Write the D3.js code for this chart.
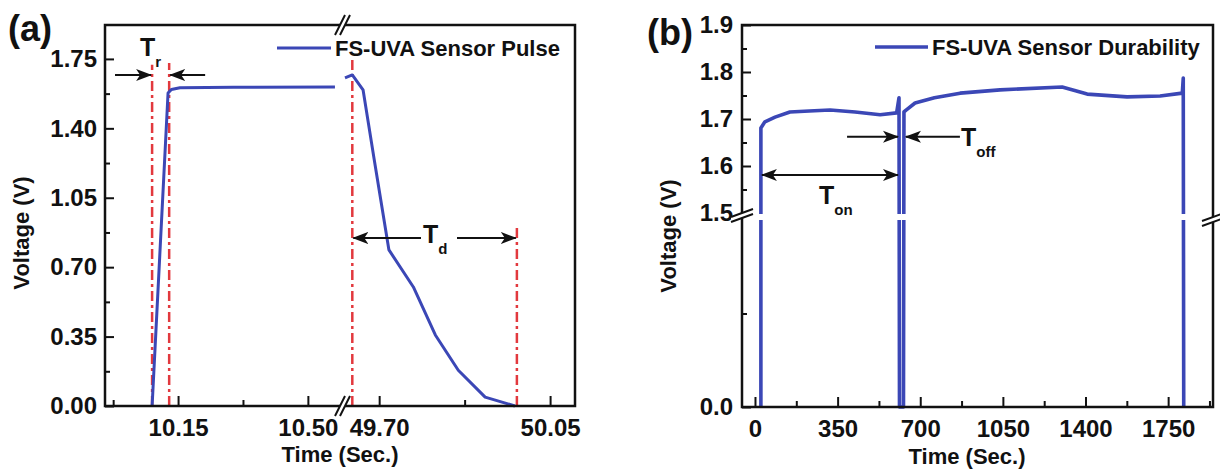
<!DOCTYPE html>
<html>
<head>
<meta charset="utf-8">
<script src="https://cdn.jsdelivr.net/npm/d3@7"></script>
<style>
  body { margin: 0; background: #fff; }
  text { font-family: "Liberation Sans", Arial, sans-serif; font-weight: bold; fill: #111; }
</style>
</head>
<body>
<svg id="chart" width="1220" height="470"></svg>
<script>
// ---- panel (a): sensor pulse, broken time axis ----
const riseTime = [10.080, 10.123, 10.132, 10.155, 10.300, 10.573];
const riseVolt = [0, 1.578, 1.596, 1.605, 1.607, 1.609];
const decayTime = [49.630, 49.645, 49.667, 49.690, 49.720, 49.770, 49.815, 49.862, 49.917, 49.978];
const decayVolt = [1.654, 1.669, 1.594, 1.240, 0.787, 0.600, 0.358, 0.180, 0.045, 0];
const markerTime = [10.080, 10.126, 49.645, 49.982];
const markerTop = [1.72, 1.73, 1.76, 0.90];
const aYTicks = [0, 0.35, 0.70, 1.05, 1.40, 1.75];
const aYMinor = [0.175, 0.525, 0.875, 1.225, 1.575];
const aXTicksL = [10.15, 10.50];
const aXMinorL = [9.975, 10.325];
const aXTicksR = [49.70, 50.05];
const aXMinorR = [49.875];

// ---- panel (b): sensor durability, broken voltage axis ----
const durTime = [25, 25, 42, 85, 148, 230, 318, 424, 530, 600, 610, 612, 629, 631, 640, 678, 760, 869, 1038, 1301, 1407, 1576, 1716, 1810, 1814, 1816];
const durVolt = [0, 1.681, 1.694, 1.704, 1.715, 1.717, 1.719, 1.715, 1.709, 1.713, 1.745, 0, 0, 1.715, 1.719, 1.734, 1.745, 1.755, 1.762, 1.768, 1.753, 1.747, 1.749, 1.755, 1.787, 0];
const bYTicksUp = [1.5, 1.6, 1.7, 1.8, 1.9];
const bYMinorUp = [1.55, 1.65, 1.75, 1.85];
const bYTicksLo = [0];
const bYMinorLo = [0.5];
const bXTicks = [0, 350, 700, 1050, 1400, 1750];
const bXMinor = [175, 525, 875, 1225, 1575, 1925];

const BLUE = '#3b47b6';
const RED = '#e2393e';
const INK = '#111';
const TICK_FONT = 24;
const TITLE_FONT = 22;

const svg = d3.select('#chart');

const defs = svg.append('defs');
defs.append('marker')
    .attr('id', 'head')
    .attr('viewBox', '0 -7 16 14')
    .attr('refX', 15).attr('refY', 0)
    .attr('markerWidth', 16).attr('markerHeight', 14)
    .attr('markerUnits', 'userSpaceOnUse')
    .attr('orient', 'auto-start-reverse')
  .append('path')
    .attr('d', 'M0,-6L16,0L0,6L4,0Z')
    .attr('fill', INK);

const styleAxis = (g, size) => {
  g.select('.domain').remove();
  g.attr('font-size', size).attr('font-family', null);
  g.selectAll('line').attr('stroke', INK).attr('stroke-width', 2);
};

const arrow = (g, x1, y1, x2, y2, both) => {
  const l = g.append('line')
    .attr('x1', x1).attr('y1', y1).attr('x2', x2).attr('y2', y2)
    .attr('stroke', INK).attr('stroke-width', 2)
    .attr('marker-end', 'url(#head)');
  if (both) l.attr('marker-start', 'url(#head)');
};

const subLabel = (g, x, y, main, sub) => {
  const t = g.append('text').attr('x', x).attr('y', y).attr('font-size', 25);
  t.append('tspan').text(main);
  t.append('tspan').attr('font-size', 15).attr('dy', 11).text(sub);
};

// horizontal-axis break mark (slashes across a horizontal line)
const breakH = (g, x, y) => {
  g.append('path')
    .attr('d', `M${x - 6},${y + 10}L${x + 4},${y - 10}L${x + 9},${y - 10}L${x - 1},${y + 10}Z`)
    .attr('fill', '#fff');
  [0, 5].forEach(dx => g.append('line')
    .attr('x1', x - 6 + dx).attr('y1', y + 10)
    .attr('x2', x + 4 + dx).attr('y2', y - 10)
    .attr('stroke', INK).attr('stroke-width', 2));
};
// vertical-axis break mark (slashes across a vertical line)
const breakV = (g, x, y) => {
  g.append('path')
    .attr('d', `M${x - 11},${y + 3}L${x + 11},${y - 5}L${x + 11},${y}L${x - 11},${y + 8}Z`)
    .attr('fill', '#fff');
  [0, 5].forEach(dy => g.append('line')
    .attr('x1', x - 11).attr('y1', y + 3 + dy)
    .attr('x2', x + 11).attr('y2', y - 5 + dy)
    .attr('stroke', INK).attr('stroke-width', 2));
};

// ================= panel (a) =================
const A = { left: 105, right: 575, top: 25, bottom: 406, brk: 343 };
const xL = d3.scaleLinear().domain([9.953, 10.592]).range([A.left, 342]);
const xR = d3.scaleLinear().domain([49.628, 50.101]).range([344, A.right]);
const ya = d3.scaleLinear().domain([0, 1.921]).range([A.bottom, A.top]);
const xa = t => (t < 30 ? xL(t) : xR(t));

const ga = svg.append('g').attr('class', 'panel-a');

// red dash-dot guide lines
ga.selectAll('.guide').data(markerTime).enter().append('line')
    .attr('class', 'guide')
    .attr('x1', d => xa(d)).attr('x2', d => xa(d))
    .attr('y1', ya(0)).attr('y2', (d, i) => ya(markerTop[i]))
    .attr('stroke', RED).attr('stroke-width', 2.5)
    .attr('stroke-dasharray', '10,4,3,4');

const lineL = d3.line().x(d => xL(d[0])).y(d => ya(d[1]));
const lineR = d3.line().x(d => xR(d[0])).y(d => ya(d[1]));
ga.append('path')
    .attr('d', lineL(d3.zip(riseTime, riseVolt)))
    .attr('fill', 'none').attr('stroke', BLUE).attr('stroke-width', 3).attr('stroke-linejoin', 'round');
ga.append('path')
    .attr('d', lineR(d3.zip(decayTime, decayVolt)))
    .attr('fill', 'none').attr('stroke', BLUE).attr('stroke-width', 3).attr('stroke-linejoin', 'round');

// frame
ga.append('rect')
    .attr('x', A.left).attr('y', A.top)
    .attr('width', A.right - A.left).attr('height', A.bottom - A.top)
    .attr('fill', 'none').attr('stroke', INK).attr('stroke-width', 2.5);

// axes
ga.append('g').attr('transform', `translate(${A.left},0)`)
    .call(d3.axisLeft(ya).tickValues(aYTicks).tickSize(-9).tickPadding(8).tickFormat(d3.format('.2f')))
    .call(styleAxis, TICK_FONT);
ga.append('g').attr('transform', `translate(${A.left},0)`)
    .call(d3.axisLeft(ya).tickValues(aYMinor).tickSize(-5).tickFormat(''))
    .call(styleAxis, TICK_FONT);
[[xL, aXTicksL, aXMinorL], [xR, aXTicksR, aXMinorR]].forEach(([sc, major, minor]) => {
  ga.append('g').attr('transform', `translate(0,${A.bottom})`)
      .call(d3.axisBottom(sc).tickValues(major).tickSize(-10).tickPadding(13).tickFormat(d3.format('.2f')))
      .call(styleAxis, TICK_FONT);
  ga.append('g').attr('transform', `translate(0,${A.bottom})`)
      .call(d3.axisBottom(sc).tickValues(minor).tickSize(-6).tickFormat(''))
      .call(styleAxis, TICK_FONT);
});
breakH(ga, A.brk - 2, A.top);
breakH(ga, A.brk - 2, A.bottom);

// annotations
arrow(ga, xL(9.980), ya(1.669), xa(markerTime[0]) - 1, ya(1.669));
arrow(ga, xL(10.223), ya(1.669), xa(markerTime[1]) + 1, ya(1.669));
subLabel(ga, 140, 56, 'T', 'r');
arrow(ga, 421, ya(0.847), xa(markerTime[2]) + 1, ya(0.847));
arrow(ga, 457, ya(0.847), xa(markerTime[3]) - 1, ya(0.847));
subLabel(ga, 423, 243, 'T', 'd');

// legend
ga.append('line').attr('x1', 277).attr('x2', 331).attr('y1', 48).attr('y2', 48)
    .attr('stroke', BLUE).attr('stroke-width', 3);
ga.append('text').attr('x', 335).attr('y', 56).attr('font-size', 22).text('FS-UVA Sensor Pulse');

ga.append('text').attr('x', 8).attr('y', 41).attr('font-size', 36).text('(a)');
ga.append('text').attr('transform', 'translate(29,233) rotate(-90)')
    .attr('text-anchor', 'middle').attr('font-size', TITLE_FONT).text('Voltage (V)');
ga.append('text').attr('x', 340).attr('y', 462)
    .attr('text-anchor', 'middle').attr('font-size', TITLE_FONT).text('Time (Sec.)');

// ================= panel (b) =================
const B = { left: 742, right: 1213, top: 25, bottom: 407 };
const xb = d3.scaleLinear().domain([-55, 1940]).range([B.left, B.right]);
const ybU = d3.scaleLinear().domain([1.5, 1.9]).range([213, B.top]);
const ybL = d3.scaleLinear().domain([0, 1.0]).range([B.bottom, 220]);
const yb = v => (v >= 1.5 ? ybU(v) : ybL(Math.min(v, 1.0)));

const gb = svg.append('g').attr('class', 'panel-b');

const lineB = d3.line().x(d => xb(d[0])).y(d => yb(d[1]));
gb.append('path')
    .attr('d', lineB(d3.zip(durTime, durVolt)))
    .attr('fill', 'none').attr('stroke', BLUE).attr('stroke-width', 3.6).attr('stroke-linejoin', 'round');

// gap of the broken voltage axis
gb.append('rect').attr('x', B.left + 2).attr('y', 214)
    .attr('width', B.right - B.left - 4).attr('height', 6).attr('fill', '#fff');

gb.append('rect')
    .attr('x', B.left).attr('y', B.top)
    .attr('width', B.right - B.left).attr('height', B.bottom - B.top)
    .attr('fill', 'none').attr('stroke', INK).attr('stroke-width', 2.5);

gb.append('g').attr('transform', `translate(${B.left},0)`)
    .call(d3.axisLeft(ybU).tickValues(bYTicksUp).tickSize(-9).tickPadding(9).tickFormat(d3.format('.1f')))
    .call(styleAxis, TICK_FONT);
gb.append('g').attr('transform', `translate(${B.left},0)`)
    .call(d3.axisLeft(ybU).tickValues(bYMinorUp).tickSize(-5).tickFormat(''))
    .call(styleAxis, TICK_FONT);
gb.append('g').attr('transform', `translate(${B.left},0)`)
    .call(d3.axisLeft(ybL).tickValues(bYTicksLo).tickSize(-9).tickPadding(9).tickFormat(d3.format('.1f')))
    .call(styleAxis, TICK_FONT);
gb.append('g').attr('transform', `translate(${B.left},0)`)
    .call(d3.axisLeft(ybL).tickValues(bYMinorLo).tickSize(-5).tickFormat(''))
    .call(styleAxis, TICK_FONT);
gb.append('g').attr('transform', `translate(0,${B.bottom})`)
    .call(d3.axisBottom(xb).tickValues(bXTicks).tickSize(-10).tickPadding(13).tickFormat(d3.format('d')))
    .call(styleAxis, TICK_FONT);
gb.append('g').attr('transform', `translate(0,${B.bottom})`)
    .call(d3.axisBottom(xb).tickValues(bXMinor).tickSize(-6).tickFormat(''))
    .call(styleAxis, TICK_FONT);
breakV(gb, B.left, 214);
breakV(gb, B.right, 218);

// annotations
arrow(gb, xb(25) + 1, ybU(1.581), xb(610) - 1, ybU(1.581), true);
subLabel(gb, 819, 204, 'T', 'on');
arrow(gb, xb(390), ybU(1.662), xb(610) - 1, ybU(1.662));
arrow(gb, xb(868), ybU(1.662), xb(631) + 2, ybU(1.662));
subLabel(gb, 961, 146, 'T', 'off');

// legend
gb.append('line').attr('x1', 875).attr('x2', 928).attr('y1', 47).attr('y2', 47)
    .attr('stroke', BLUE).attr('stroke-width', 3.4);
gb.append('text').attr('x', 932).attr('y', 55).attr('font-size', 22).text('FS-UVA Sensor Durability');

gb.append('text').attr('x', 647).attr('y', 45).attr('font-size', 36).text('(b)');
gb.append('text').attr('transform', 'translate(676,236) rotate(-90)')
    .attr('text-anchor', 'middle').attr('font-size', TITLE_FONT).text('Voltage (V)');
gb.append('text').attr('x', 967).attr('y', 464)
    .attr('text-anchor', 'middle').attr('font-size', TITLE_FONT).text('Time (Sec.)');
</script>
</body>
</html>
